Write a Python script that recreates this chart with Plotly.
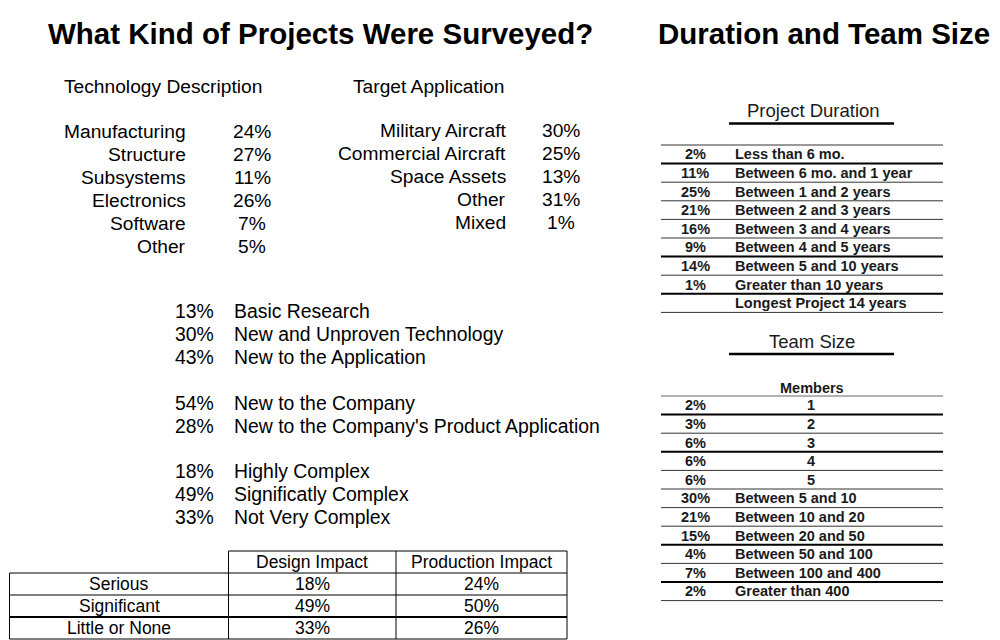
import plotly.graph_objects as go

# ---------------- data ----------------
main_titles = ["What Kind of Projects Were Surveyed?", "Duration and Team Size"]

tech_header = "Technology Description"
tech_labels = ["Manufacturing", "Structure", "Subsystems", "Electronics", "Software", "Other"]
tech_pct = [24, 27, 11, 26, 7, 5]

target_header = "Target Application"
target_labels = ["Military Aircraft", "Commercial Aircraft", "Space Assets", "Other", "Mixed"]
target_pct = [30, 25, 13, 31, 1]

novelty_labels = ["Basic Research", "New and Unproven Technology", "New to the Application"]
novelty_pct = [13, 30, 43]
company_labels = ["New to the Company", "New to the Company's Product Application"]
company_pct = [54, 28]
complexity_labels = ["Highly Complex", "Significatly Complex", "Not Very Complex"]
complexity_pct = [18, 49, 33]

impact_cols = ["Design Impact", "Production Impact"]
impact_rows = ["Serious", "Significant", "Little or None"]
design_impact = [18, 49, 33]
production_impact = [24, 50, 26]

duration_title = "Project Duration"
duration_labels = ["Less than 6 mo.", "Between 6 mo. and 1 year", "Between 1 and 2 years",
                   "Between 2 and 3 years", "Between 3 and 4 years", "Between 4 and 5 years",
                   "Between 5 and 10 years", "Greater than 10 years"]
duration_pct = [2, 11, 25, 21, 16, 9, 14, 1]
duration_note = "Longest Project 14 years"

team_title = "Team Size"
team_header = "Members"
team_labels = ["1", "2", "3", "4", "5", "Between 5 and 10", "Between 10 and 20",
               "Between 20 and 50", "Between 50 and 100", "Between 100 and 400",
               "Greater than 400"]
team_pct = [2, 3, 6, 6, 6, 30, 21, 15, 4, 7, 2]

# ---------------- helpers ----------------
SANS = "Liberation Sans, Arial, sans-serif"
ann = []
shapes = []


def txt(x, y, s, size, anchor="center", bold=False, color="#000000"):
    ann.append(dict(x=x, y=y, xref="x", yref="y", text=(f"<b>{s}</b>" if bold else s),
                    showarrow=False, xanchor=anchor, yanchor="middle", borderpad=0,
                    font=dict(size=size, color=color, family=SANS)))


def line(x0, y0, x1, y1, w=1, color="#000000"):
    shapes.append(dict(type="line", xref="x", yref="y", x0=x0, y0=y0, x1=x1, y1=y1,
                       line=dict(color=color, width=w)))


def pct(v):
    return f"{v}%"


# ---------------- titles ----------------
txt(320, 33, main_titles[0], 29.5, "center", bold=True)
txt(991, 33, main_titles[1], 29.5, "right", bold=True)

# ---------------- technology / target ----------------
F = 19.2
txt(263, 86, tech_header, F, "right")
for i, (lab, v) in enumerate(zip(tech_labels, tech_pct)):
    y = 131.5 + 22.9 * i
    txt(187, y, lab, F, "right")
    txt(252, y, pct(v), F, "center")

txt(352, 86, target_header, F, "left")
for i, (lab, v) in enumerate(zip(target_labels, target_pct)):
    y = 130.5 + 22.9 * i
    txt(507, y, lab, F, "right")
    txt(561, y, pct(v), F, "center")

# ---------------- middle list ----------------
groups = [(novelty_labels, novelty_pct, 0), (company_labels, company_pct, 4),
          (complexity_labels, complexity_pct, 7)]
for labs, vals, start in groups:
    for j, (lab, v) in enumerate(zip(labs, vals)):
        y = 311 + 22.9 * (start + j)
        txt(215, y, pct(v), 19.4, "right")
        txt(233, y, lab, 19.4, "left")

# ---------------- impact table ----------------
tx0, tx1, tx2, tx3 = 9.5, 228.5, 396, 567
ty_top, rh = 551, 22
row_y = [ty_top + rh * (k + 1) for k in range(len(impact_rows) + 1)]
line(tx1, ty_top, tx3, ty_top)
for k, yy in enumerate(row_y):
    line(tx0, yy, tx3, yy, w=2 if k == 2 else 1)
line(tx0, row_y[0], tx0, row_y[-1])
for xx in (tx1, tx2, tx3):
    line(xx, ty_top, xx, row_y[-1])
TF = 17.5
txt((tx1 + tx2) / 2, ty_top + rh / 2, impact_cols[0], TF, "center")
txt((tx2 + tx3) / 2, ty_top + rh / 2, impact_cols[1], TF, "center")
for k, (lab, d, p) in enumerate(zip(impact_rows, design_impact, production_impact)):
    y = ty_top + rh * (k + 1.5)
    txt((tx0 + tx1) / 2, y, lab, TF, "center")
    txt((tx1 + tx2) / 2, y, pct(d), TF, "center")
    txt((tx2 + tx3) / 2, y, pct(p), TF, "center")

# ---------------- project duration ----------------
GRAY = "#1a1a1a"
L0, L1 = 661, 943
PX, LX = 695, 733.5
txt(813, 110.5, duration_title, 18.5, "center", color=GRAY)
line(729, 123.5, 894, 123.5, w=2.5)
dy = 18.6
d_top = 145
n_d = len(duration_labels) + 1
for i in range(n_d + 1):
    thick = i in (1, 6, 8)
    line(L0, d_top + dy * i, L1, d_top + dy * i, w=2 if thick else 1,
         color="#000000" if thick else "#333333")
for i, (lab, v) in enumerate(zip(duration_labels, duration_pct)):
    y = d_top + dy * (i + 0.5)
    txt(PX, y, pct(v), 14.5, "center", bold=True, color=GRAY)
    txt(LX, y, lab, 14.5, "left", bold=True, color=GRAY)
txt(LX, d_top + dy * (n_d - 0.5), duration_note, 14.5, "left", bold=True, color=GRAY)

# ---------------- team size ----------------
txt(812, 341.5, team_title, 18.5, "center", color=GRAY)
line(729, 354, 894, 354, w=2.5)
t_top = 396
txt(811.5, 387.5, team_header, 14.5, "center", bold=True, color=GRAY)
for i in range(len(team_labels) + 1):
    thick = i in (1, 3, 8, 10)
    line(L0, t_top + dy * i, L1, t_top + dy * i, w=2 if thick else 1,
         color="#000000" if thick else ("#666666" if i == 0 else "#333333"))
for i, (lab, v) in enumerate(zip(team_labels, team_pct)):
    y = t_top + dy * (i + 0.5)
    txt(PX, y, pct(v), 14.5, "center", bold=True, color=GRAY)
    if lab.isdigit():
        txt(811, y, lab, 14.5, "center", bold=True, color=GRAY)
    else:
        txt(LX, y, lab, 14.5, "left", bold=True, color=GRAY)

fig = go.Figure()
fig.update_layout(
    width=1000, height=640, margin=dict(l=0, r=0, t=0, b=0),
    paper_bgcolor="white", plot_bgcolor="white", showlegend=False,
    xaxis=dict(range=[0, 1000], visible=False, fixedrange=True),
    yaxis=dict(range=[640, 0], visible=False, fixedrange=True),
    annotations=ann, shapes=shapes,
)
fig.write_html("out.html", config={"displayModeBar": False},
               post_script="document.body.style.margin='0';"
                           "document.body.style.overflow='hidden';")
